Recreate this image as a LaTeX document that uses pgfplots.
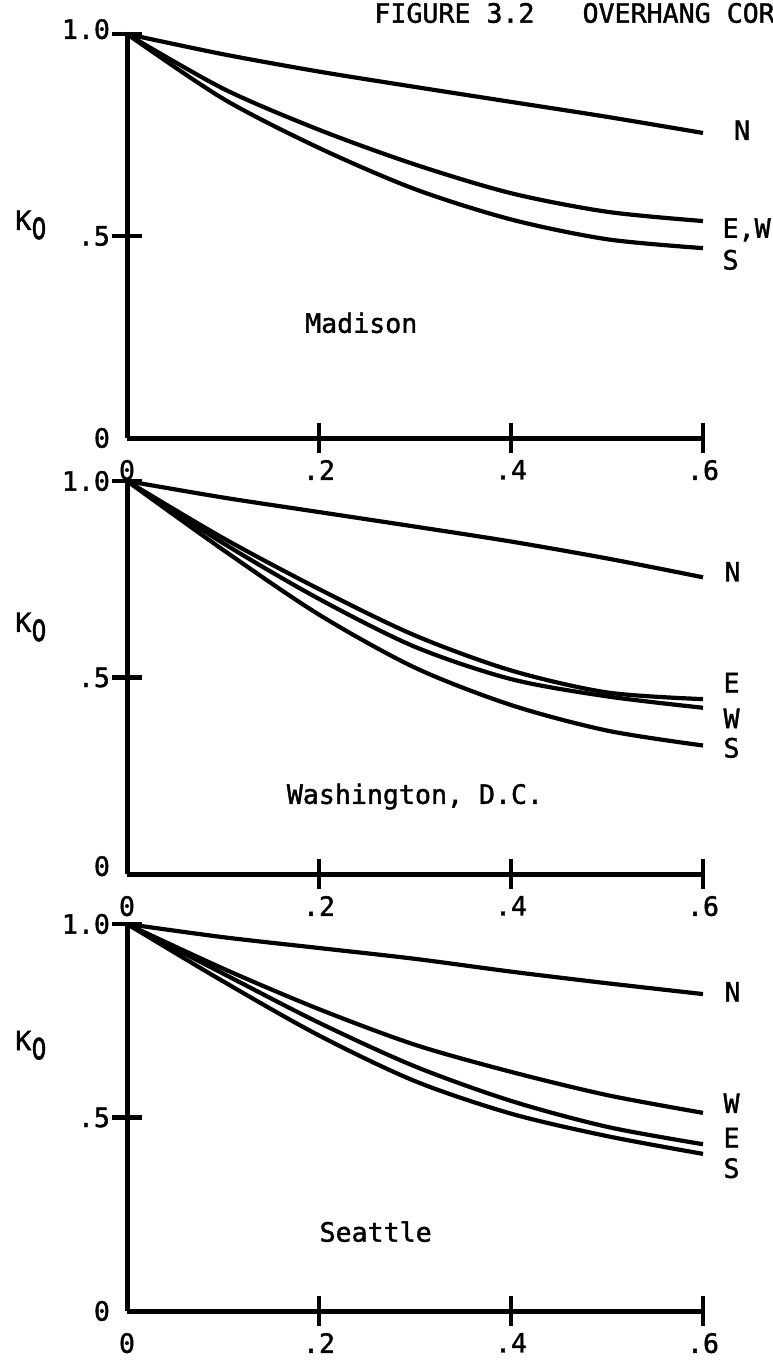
\documentclass[border=0pt]{standalone}
\usepackage{fontspec}
\setmainfont{DejaVu Sans Mono}[FakeBold=1.5]
\usepackage{pgfplots}
\pgfplotsset{compat=1.18}
\newcommand{\lbl}{\fontsize{13.3}{15}\selectfont}
\newcommand{\Ko}{K\raisebox{-4.5pt}{\scalebox{0.95}[1.45]{o}}}
\tikzset{lab/.style={anchor=west, inner sep=0pt, font=\lbl}}
\pgfplotsset{
 panel/.style={
  scale only axis, width=288pt,
  xmin=0,xmax=0.6,ymin=0,ymax=1,
  axis lines=left, axis line style={-, line width=2.5pt},
  clip=false,
  xtick={0.2,0.4,0.6}, xticklabels={.2,.4,.6},
  ytick={0.5,1}, yticklabels={.5,1.0},
  extra x ticks={0}, extra x tick labels={0},
  extra y ticks={0}, extra y tick labels={0},
  tick align=center, major tick length=15pt,
  every tick/.style={black, line width=2.3pt},
  extra x tick style={tick style={draw=none}},
  extra y tick style={tick style={draw=none}},
  tick label style={font=\lbl},
  yticklabel style={xshift=2.5pt},
  anchor=south west,
 },
 curve/.style={black, line width=2.1pt, smooth, no marks},
}
\begin{document}
\begin{tikzpicture}[font=\lbl]
\useasboundingbox (0,0) rectangle (386pt,-680.5pt);
\node[anchor=west, inner sep=0pt] at (187pt,-6.5pt) {FIGURE 3.2\ \ \ OVERHANG COR};

% Panel 1: Madison
\begin{axis}[panel, height=202pt, at={(63.5pt,-219pt)}, yticklabels={.5,\raisebox{5pt}{1.0}}]
\addplot[curve] coordinates {(0,1) (0.1,0.950) (0.2,0.907) (0.3,0.869) (0.4,0.832) (0.5,0.795) (0.6,0.755)};
\addplot[curve] coordinates {(0,1) (0.1,0.865) (0.2,0.763) (0.3,0.677) (0.4,0.606) (0.5,0.560) (0.6,0.537)};
\addplot[curve] coordinates {(0,1) (0.1,0.840) (0.2,0.718) (0.3,0.616) (0.4,0.541) (0.5,0.492) (0.6,0.470)};
\node[lab] at (axis cs:0.632,0.762) {N};
\node[lab] at (axis cs:0.620,0.515) {E,W};
\node[lab] at (axis cs:0.620,0.441) {S};
\node[font=\lbl] at (axis cs:0.244,0.285) {Madison};
\node[anchor=base west, inner sep=0pt, font=\lbl] at (axis cs:-0.1167,0.515) {\Ko};
\end{axis}

% Panel 2: Washington, D.C.
\begin{axis}[panel, height=196.5pt, at={(63.5pt,-437pt)}, extra y tick labels={\raisebox{8pt}{0}}]
\addplot[curve] coordinates {(0,1) (0.1,0.958) (0.2,0.921) (0.3,0.884) (0.4,0.846) (0.5,0.803) (0.6,0.755)};
\addplot[curve] coordinates {(0,1) (0.1,0.855) (0.2,0.725) (0.3,0.607) (0.4,0.518) (0.5,0.462) (0.6,0.445)};
\addplot[curve] coordinates {(0,1) (0.1,0.842) (0.2,0.700) (0.3,0.578) (0.4,0.496) (0.5,0.452) (0.6,0.423)};
\addplot[curve] coordinates {(0,1) (0.1,0.825) (0.2,0.660) (0.3,0.525) (0.4,0.430) (0.5,0.365) (0.6,0.327)};
\node[lab] at (axis cs:0.622,0.769) {N};
\node[lab] at (axis cs:0.621,0.487) {E};
\node[lab] at (axis cs:0.621,0.396) {W};
\node[lab] at (axis cs:0.621,0.321) {S};
\node[font=\lbl] at (axis cs:0.30,0.197) {Washington, D.C.};
\node[anchor=base west, inner sep=0pt, font=\lbl] at (axis cs:-0.1167,0.616) {\Ko};
\end{axis}

% Panel 3: Seattle
\begin{axis}[panel, height=193.5pt, at={(63.5pt,-655.5pt)}]
\addplot[curve] coordinates {(0,1) (0.1,0.966) (0.2,0.938) (0.3,0.910) (0.4,0.877) (0.5,0.847) (0.6,0.819)};
\addplot[curve] coordinates {(0,1) (0.1,0.885) (0.2,0.780) (0.3,0.688) (0.4,0.618) (0.5,0.558) (0.6,0.512)};
\addplot[curve] coordinates {(0,1) (0.1,0.872) (0.2,0.745) (0.3,0.632) (0.4,0.543) (0.5,0.476) (0.6,0.431)};
\addplot[curve] coordinates {(0,1) (0.1,0.852) (0.2,0.712) (0.3,0.594) (0.4,0.510) (0.5,0.452) (0.6,0.406)};
\node[lab] at (axis cs:0.622,0.825) {N};
\node[lab] at (axis cs:0.621,0.537) {W};
\node[lab] at (axis cs:0.621,0.448) {E};
\node[lab] at (axis cs:0.621,0.369) {S};
\node[font=\lbl] at (axis cs:0.259,0.205) {Seattle};
\node[anchor=base west, inner sep=0pt, font=\lbl] at (axis cs:-0.1167,0.674) {\Ko};
\end{axis}
\end{tikzpicture}
\end{document}
